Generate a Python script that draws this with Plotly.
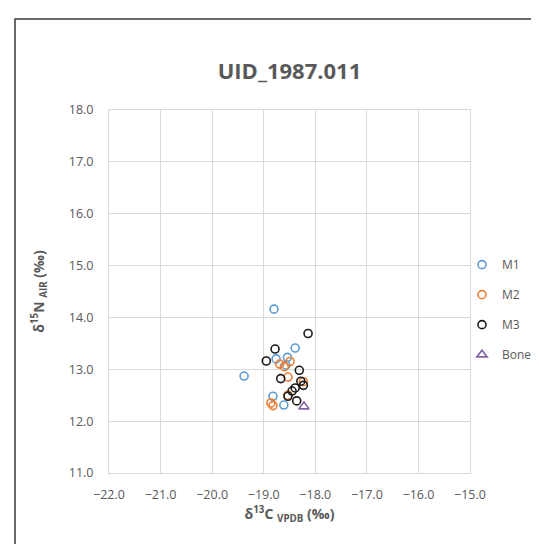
import plotly.graph_objects as go

# Data (delta13C VPDB, delta15N AIR)
m1_x = [-18.80, -19.38, -18.39, -18.76, -18.54, -18.57, -18.82, -18.61]
m1_y = [14.16, 12.87, 13.41, 13.20, 13.23, 13.08, 12.48, 12.31]
m2_x = [-18.69, -18.49, -18.53, -18.23, -18.53, -18.86, -18.82, -18.60]
m2_y = [13.10, 13.15, 12.85, 12.76, 12.50, 12.35, 12.30, 13.05]
m3_x = [-18.14, -18.78, -18.95, -18.31, -18.67, -18.28, -18.23, -18.39, -18.53, -18.36, -18.45]
m3_y = [13.69, 13.39, 13.16, 12.98, 12.82, 12.77, 12.69, 12.64, 12.48, 12.39, 12.58]
bone_x = [-18.22]
bone_y = [12.28]

series_names = ["M1", "M2", "M3", "Bone"]
x_ticks = [-22, -21, -20, -19, -18, -17, -16, -15]
y_ticks = [11, 12, 13, 14, 15, 16, 17, 18]

colors = {"M1": "#5B9BD5", "M2": "#ED7D31", "M3": "#1A1A1A", "Bone": "#8064A2"}
symbols = {"M1": "circle-open", "M2": "circle-open", "M3": "circle-open", "Bone": "triangle-up-open"}
data = {"M1": (m1_x, m1_y), "M2": (m2_x, m2_y), "M3": (m3_x, m3_y), "Bone": (bone_x, bone_y)}

fig = go.Figure()
for name in series_names:
    xs, ys = data[name]
    fig.add_trace(go.Scatter(
        x=xs, y=ys, mode="markers", name=name, legendgroup=name,
        marker=dict(symbol=symbols[name], size=8 if name != "Bone" else 9,
                    color=colors[name], line=dict(width=1.6, color=colors[name])),
    ))

font_family = "Open Sans, Liberation Sans, sans-serif"
gray = "#595959"
grid = "#D9D9D9"

fig.update_layout(
    width=539, height=544,
    margin=dict(l=101, r=77, t=102, b=79, autoexpand=False),
    paper_bgcolor="white", plot_bgcolor="white",
    font=dict(family=font_family, color=gray, size=11),
    title=dict(text="<b>UID_1987.011</b>", font=dict(size=22, color=gray, family=font_family),
               x=0.5, xref="paper", xanchor="center",
               y=1 - 63 / 544, yref="container", yanchor="middle"),
    showlegend=True,
    legend=dict(x=(454 - 101) / 361, xanchor="left", y=0.45, yanchor="middle",
                font=dict(size=12, color=gray), tracegroupgap=11,
                itemwidth=30, bgcolor="rgba(0,0,0,0)", borderwidth=0),
    xaxis=dict(range=[-22, -15], tickvals=x_ticks, tickformat=".1f",
               showgrid=True, gridcolor=grid, gridwidth=1,
               showline=True, linecolor=grid, mirror=True, zeroline=False,
               ticks="", ticklabelstandoff=10, tickfont=dict(size=12.5, color=gray),
               title=dict(text="<b>δ<sup>13</sup>C <sub>VPDB</sub> (‰)</b>",
                          font=dict(size=14, color=gray), standoff=6)),
    yaxis=dict(range=[11, 18], tickvals=y_ticks, tickformat=".1f",
               showgrid=True, gridcolor=grid, gridwidth=1,
               showline=True, linecolor=grid, mirror=True, zeroline=False,
               ticks="", ticklabelstandoff=12, tickfont=dict(size=12.5, color=gray),
               title=dict(text="<b>δ<sup>15</sup>N <sub>AIR</sub> (‰)</b>",
                          font=dict(size=14, color=gray), standoff=20)),
    shapes=[dict(type="rect", xref="paper", yref="paper",
                 x0=(7 - 101) / 361, x1=3, y0=-3, y1=(465 - 11) / 363,
                 line=dict(color="#3A3A3A", width=1.5), fillcolor="rgba(0,0,0,0)",
                 layer="below")],
)

fig.write_html("out.html")
